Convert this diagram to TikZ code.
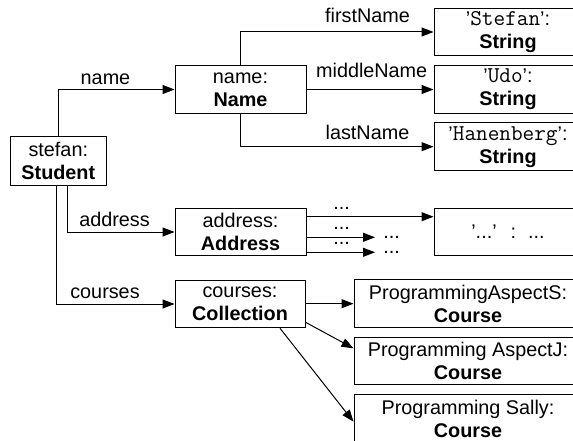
\documentclass[tikz,border=0pt]{standalone}
\usepackage{fontspec}
\setmainfont{Liberation Sans}
\usetikzlibrary{arrows.meta,calc}

% typewriter text for string values
\newcommand{\strval}[1]{{\fontsize{22.6}{23}\ttfamily #1}}

\begin{document}
\begin{tikzpicture}[x=1pt,y=-1pt,
  every node/.style={font=\fontsize{19.8}{23}\selectfont},
  obj/.style={draw, line width=1pt, inner sep=0pt, align=center},
  small/.style={obj, minimum width=131pt, minimum height=47.5pt},
  wide/.style={obj, minimum width=148pt, minimum height=47.5pt},
  course/.style={obj, minimum width=228pt, minimum height=47.5pt},
  ref/.style={draw, line width=1pt, -{Triangle[length=12pt,width=9pt]}},
  lbl/.style={anchor=base, inner sep=0pt},
  dots/.style={lbl, text height=2.5pt, text depth=0pt},
]
\useasboundingbox (0,0) rectangle (573,441);
\clip (0,0) rectangle (573,441);
\fill[white] (0,0) rectangle (573,441);

% objects
\node[obj, minimum width=95.5pt, minimum height=48pt] (stu) at (58.3,161) {stefan:\\\textbf{Student}};
\node[small] (name) at (240.5,89.5) {name:\\\textbf{Name}};
\node[small] (addr) at (240.5,232) {address:\\\textbf{Address}};
\node[small, minimum width=130pt] (coll) at (240,304) {courses:\\\textbf{Collection}};

\node[wide] (sstr) at (508,32) {'\strval{Stefan}':\\\textbf{String}};
\node[wide] (udo) at (508,89.5) {'\strval{Udo}':\\\textbf{String}};
\node[wide] (han) at (508,146.7) {'\strval{Hanenberg}':\\\textbf{String}};
\node[wide] (big) at (508,232) {'...'\hspace{14pt}:\hspace{12pt}...};

\node[course] (cs) at (468,303.7) {ProgrammingAspectS:\\\textbf{Course}};
\node[course] (cj) at (468,361) {Programming AspectJ:\\\textbf{Course}};
\node[course] (csal) at (468,418.7) {Programming Sally:\\\textbf{Course}};

% student references
\draw[ref] (stu.north) |- (name.west);
\draw[ref] ([xshift=9.4pt]stu.south) |- (addr.west);
\draw[ref] ([xshift=-2.3pt]stu.south) |- (coll.west);
\node[lbl] (lname) at (105.5,84.3) {name};
\node[lbl] (laddr) at (114.5,226.7) {address};
\node[lbl] (lcour) at (105,298.3) {courses};

% name references
\draw[ref] (name.north) |- (sstr.west);
\draw[ref] (name.east) -- (udo.west);
\draw[ref] (name.south) |- (han.west);
\node[lbl] (lfirst) at (367.5,22.5) {firstName};
\node[lbl] (lmid) at (371.7,78) {middleName};
\node[lbl] (llast) at (367.5,139.3) {lastName};

% address references
\coordinate (t1) at (375,237.3);
\coordinate (t2) at (375,252.3);
\draw[ref] ([yshift=15.3pt]addr.east) -- ([yshift=15.3pt]big.west);
\draw[ref] (addr.east |- t1) -- (t1);
\draw[ref] (addr.east |- t2) -- (t2);
\node[dots] (a1) at (341.7,209.5) {...};
\node[dots] (a2) at (341.7,229.5) {...};
\node[dots] (a3) at (341.7,244.5) {...};
\node[dots] (dd1) at (391.7,238.5) {...};
\node[dots] (dd2) at (391.7,253.5) {...};

% collection references
\draw[ref] (coll.east |- cs.west) -- (cs.west);
\draw[ref] ([yshift=6pt]coll.south east) -- ([yshift=12.7pt]cj.west);
\draw[ref] ([xshift=40pt]coll.south) -- ([yshift=-3pt]csal.west);
\end{tikzpicture}
\end{document}
